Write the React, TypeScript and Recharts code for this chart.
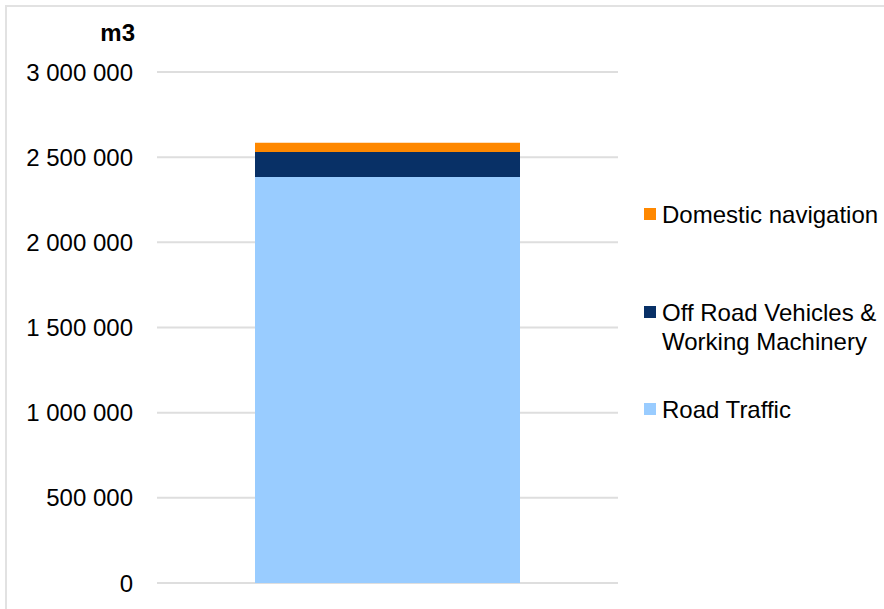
import { BarChart, Bar, XAxis, YAxis, CartesianGrid } from 'recharts'

// values in m3
const categories = ['Total']
const roadTraffic = [2384000]
const offRoad = [147000]
const domestic = [53000]
const yTicks = [0, 500000, 1000000, 1500000, 2000000, 2500000, 3000000]

const SERIES = [
  { key: 'road', name: 'Road Traffic', color: '#99CCFF' },
  { key: 'offroad', name: 'Off Road Vehicles & Working Machinery', color: '#083066' },
  { key: 'domestic', name: 'Domestic navigation', color: '#FF8800' },
]

const FONT = '"Liberation Sans", Arial, sans-serif'
const FONT_SIZE = 24

const data = categories.map((c, i) => ({
  name: c,
  road: roadTraffic[i],
  offroad: offRoad[i],
  domestic: domestic[i],
}))

const fmt = (v: number) => String(v).replace(/\B(?=(\d{3})+(?!\d))/g, ' ')

// legend tops (px inside the legend box), Excel spreads them unevenly
const legendTops = [0, 98, 195]

const LegendBox = () => {
  const items = [...SERIES].reverse()
  return (
    <div style={{ position: 'absolute', top: 200, left: 644, width: 240, height: 260, fontFamily: FONT, fontSize: FONT_SIZE }}>
      {items.map((s, i) => (
        <div
          key={s.key}
          style={{ position: 'absolute', top: legendTops[i], left: 0, display: 'flex', alignItems: 'flex-start' }}
        >
          <div style={{ width: 12, height: 12, background: s.color, marginTop: 8, marginRight: 6, flex: 'none' }} />
          <div style={{ width: 222, lineHeight: '29px', color: '#000', textAlign: 'left' }}>{s.name}</div>
        </div>
      ))}
    </div>
  )
}

export default function App() {
  return (
    <div style={{ position: 'absolute', top: 0, left: 0, width: 884, height: 609, overflow: 'hidden', background: '#fff' }}>
      <div
        style={{
          position: 'absolute', top: 5, left: 5, width: 940, height: 700,
          border: '2px solid #e2e2e2', boxSizing: 'border-box',
        }}
      />
      <BarChart
        width={884}
        height={609}
        data={data}
        margin={{ top: 72, right: 266, bottom: 26, left: 0 }}
        barCategoryGap={0}
      >
        <CartesianGrid vertical={false} stroke="#dedede" strokeWidth={2} />
        <XAxis dataKey="name" hide />
        <YAxis
          width={157}
          domain={[0, 3000000]}
          ticks={yTicks}
          tickFormatter={fmt}
          axisLine={false}
          tickLine={false}
          tickSize={0}
          tickMargin={24}
          tick={{ fill: '#000', fontSize: FONT_SIZE, fontFamily: FONT }}
          label={{
            content: ({ viewBox }: any) => (
              <text
                x={viewBox.x + viewBox.width - 22}
                y={viewBox.y - 31}
                textAnchor="end"
                fill="#000"
                fontSize={FONT_SIZE}
                fontWeight="bold"
                fontFamily={FONT}
              >
                m3
              </text>
            ),
          }}
        />
        {SERIES.map((s) => (
          <Bar
            key={s.key}
            dataKey={s.key}
            name={s.name}
            stackId="a"
            fill={s.color}
            barSize={265}
            isAnimationActive={false}
          />
        ))}
      </BarChart>
      <LegendBox />
    </div>
  )
}
